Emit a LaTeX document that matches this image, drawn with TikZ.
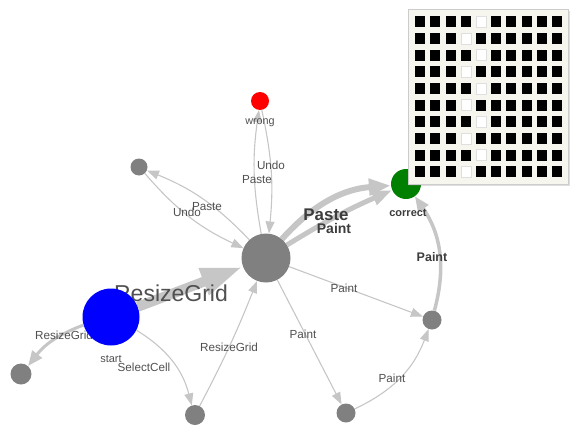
\documentclass[tikz,border=0pt]{standalone}
\usepackage{fontspec}
\setmainfont{Liberation Sans}
\usetikzlibrary{arrows.meta,shadows}
\definecolor{edgec}{RGB}{198,198,198}
\definecolor{nodec}{RGB}{128,128,128}
\definecolor{labc}{RGB}{80,80,80}
\definecolor{boldc}{RGB}{60,60,60}
\definecolor{popc}{RGB}{246,246,238}
\definecolor{greenc}{RGB}{0,128,0}
\pgfdeclarelayer{back}
\pgfsetlayers{back,main}
\tikzset{
  vtx/.style={circle,fill=nodec,inner sep=0pt,minimum size=#1},
  thinedge/.style={draw=edgec,line width=1.1pt,-{Triangle[length=12pt,width=9pt]}},
  lab/.style={text=labc,font=\fontsize{11.7}{13}\selectfont,inner sep=0pt},
  blab/.style={text=boldc,font=\bfseries\fontsize{#1}{#1}\selectfont,inner sep=0pt},
  cell/.style={fill=black,minimum width=10pt,minimum height=11pt,inner sep=0pt,draw=none},
  wcell/.style={fill=white,draw=gray!25,line width=0.6pt,minimum width=10pt,minimum height=11pt,inner sep=0pt}
}
\begin{document}
\begin{tikzpicture}[x=1pt,y=1pt]
\useasboundingbox (0,0) rectangle (570,-431);
% nodes
\node[vtx=49pt] (H) at (266,-258) {};
\node[circle,fill=blue,inner sep=0pt,minimum size=57pt] (S) at (111,-317) {};
\node[circle,fill=red,inner sep=0pt,minimum size=18pt] (W) at (260,-101) {};
\node[circle,fill=greenc,inner sep=0pt,minimum size=30pt] (C) at (406,-184) {};
\node[vtx=17pt] (TL) at (139,-167) {};
\node[vtx=19pt] (R) at (432,-320) {};
\node[vtx=19pt] (BM) at (346,-413) {};
\node[vtx=20pt] (B) at (195,-415) {};
\node[vtx=21pt] (BL) at (21,-374) {};
% node labels
\node[lab,font=\fontsize{11}{12}\selectfont] (tstart) at (111,-359) {start};
\node[lab,font=\fontsize{10.8}{12}\selectfont] (twrong) at (260,-123) {wrong};
\node[blab=11] (tcorrect) at (408,-213) {correct};
\begin{pgfonlayer}{back}
% edges
\draw[draw=edgec,line width=10pt,-{Triangle[length=42pt,width=26pt]}] (S) -- (H);
\draw[draw=edgec,line width=3pt,-{Triangle[length=15pt,width=12pt]}] (S) to[bend right=16] (BL);
\draw[thinedge] (S) to[bend left=22] (B);
\draw[thinedge] (B) to[bend right=3] (H);
\draw[thinedge] (H) to[bend right=12] (TL);
\draw[thinedge] (TL) to[bend right=12] (H);
\draw[thinedge] (H) to[bend left=9] (W);
\draw[thinedge] (W) to[bend left=9] (H);
\draw[draw=edgec,line width=6pt,-{Triangle[length=22pt,width=16pt]}] (H) to[bend left=22] (C);
\draw[draw=edgec,line width=5pt,-{Triangle[length=20pt,width=14pt]}] (H) to[bend left=4] (C);
\draw[thinedge] (H) -- (R);
\draw[thinedge] (H) -- (BM);
\draw[thinedge] (BM) to[bend right=22] (R);
\draw[draw=edgec,line width=3.5pt,-{Triangle[length=15pt,width=12pt]}] (R) to[bend right=25] (C);
% edge labels
\node[lab,text=boldc!90,font=\fontsize{23}{24}\selectfont] (lrg) at (171,-293) {ResizeGrid};
\node[lab] (lrg2) at (64,-335) {ResizeGrid};
\node[lab] (lsel) at (144,-367) {SelectCell};
\node[lab] (lrg3) at (229,-347) {ResizeGrid};
\node[lab] (lundo1) at (187,-212) {Undo};
\node[lab] (lpaste1) at (207,-207) {Paste};
\node[lab] (lpaste2) at (257,-180) {Paste};
\node[lab] (lundo2) at (271,-165) {Undo};
\node[blab=16.9] (lpaste3) at (326,-214.5) {Paste};
\node[blab=14] (lpaint1) at (334,-228) {Paint};
\node[blab=12.5] (lpaint2) at (432,-257) {Paint};
\node[lab] (lpaint3) at (344,-288) {Paint};
\node[lab] (lpaint4) at (303,-334) {Paint};
\node[lab] (lpaint5) at (392,-378) {Paint};
\end{pgfonlayer}
% popup
\node[draw=gray!40,fill=popc,line width=0.8pt,minimum width=160pt,minimum height=175pt,inner sep=0pt,anchor=north west,
  drop shadow={opacity=0.25,shadow xshift=1.5pt,shadow yshift=-1.5pt}] (pop) at (408,-9) {};
\foreach \r in {0,...,9}{
  \foreach \c in {0,...,9}{
    \pgfmathtruncatemacro{\wc}{mod(\r,2)==0 ? 4 : 3}
    \ifnum\c=\wc
      \node[wcell,anchor=north west] (g\r\c) at ({415+15.19*\c},{-16-16.67*\r}) {};
    \else
      \node[cell,anchor=north west] (g\r\c) at ({415+15.19*\c},{-16-16.67*\r}) {};
    \fi
  }
}
\end{tikzpicture}
\end{document}
